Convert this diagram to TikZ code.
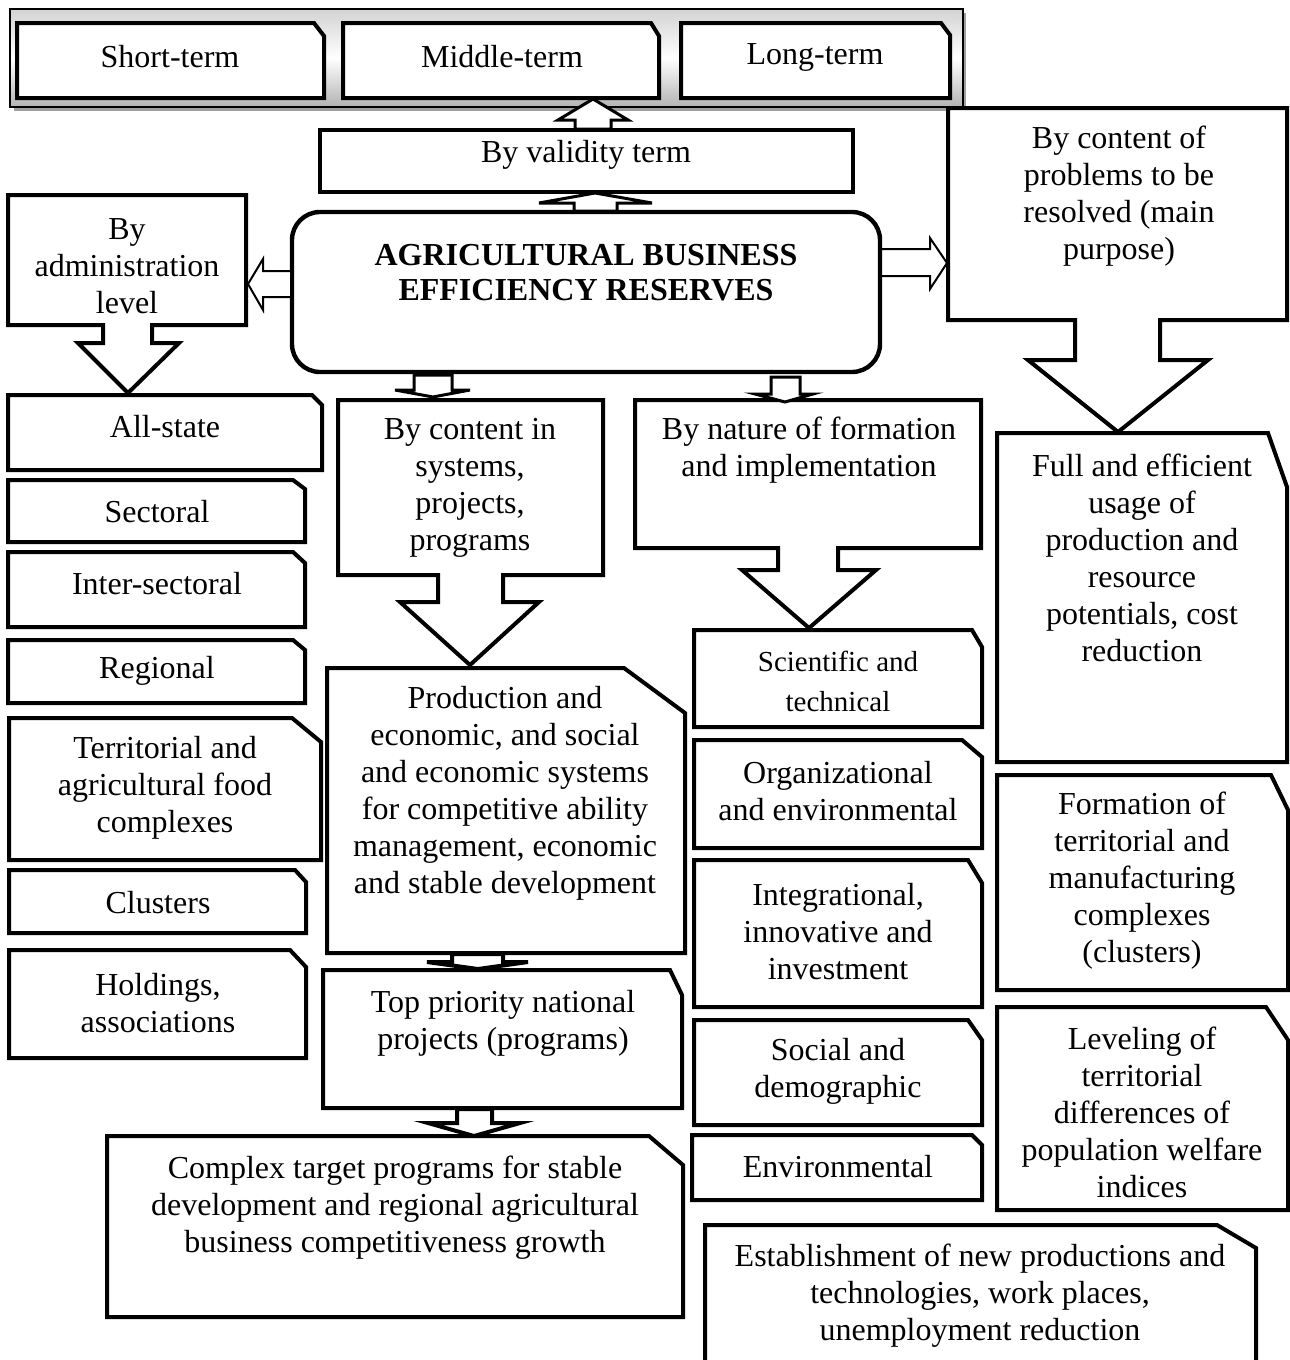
\documentclass[tikz,border=0pt]{standalone}
\usepackage{fontspec}
\setmainfont{Liberation Serif}
\newcommand\cbox[6]{\draw[boxline] (#1,#2) -- ({#3-#5},#2) -- (#3,{#2+#6}) -- (#3,#4) -- (#1,#4) -- cycle;}
\newcommand\darrow[9][arrline]{\draw[#1] (#2,#4) -- (#3,#4) -- (#3,#5) -- (#7,#5) -- (#8,#9) -- (#6,#5) -- (#2,#5) -- cycle;}
\newcommand\harrow[9][arrline]{\draw[#1] (#2,#4) -- (#3,#4) -- (#3,#6) -- (#8,#9) -- (#3,#7) -- (#3,#5) -- (#2,#5) -- cycle;}
\begin{document}
\begin{tikzpicture}[x=0.5pt,y=-0.5pt,
  boxline/.style={line width=2pt, line join=miter, fill=white},
  arrline/.style={line width=1.5pt, line join=miter, fill=white},
  thinarr/.style={line width=1pt, line join=miter, fill=white},
  txt/.style={font=\fontsize{16}{18.5}\selectfont, align=center, inner sep=0pt},
  smalltxt/.style={font=\fontsize{14.5}{20}\selectfont, align=center, inner sep=0pt},
]
\useasboundingbox (0,0) rectangle (1290,1360);

% container of terms
\fill[gray!75] (14,13) rectangle (966,111);
\shade[top color=gray!35, bottom color=gray!60, middle color=white, draw=black, line width=0.8pt] (10,9) rectangle (963,107);
\cbox{17}{23}{324}{98}{10}{13}
\cbox{343}{23}{659}{98}{8}{13}
\cbox{681}{23}{950}{98}{9}{12}

% validity box
\draw[boxline] (320,130) rectangle (853,192);

% main box
\draw[line width=2.2pt, fill=white, rounded corners=14pt] (292,212) rectangle (880,372);

% callouts
\draw[boxline] (8,195) -- (246,195) -- (246,325) -- (152,325) -- (152,343) -- (179,343) -- (128,393) -- (78,343) -- (103,343) -- (103,325) -- (8,325) -- cycle;
\draw[boxline] (948,108) -- (1287,108) -- (1287,320) -- (1160,320) -- (1160,360) -- (1208,360) -- (1118,432) -- (1028,360) -- (1075,360) -- (1075,320) -- (948,320) -- cycle;
\draw[boxline] (338,400) -- (603,400) -- (603,575) -- (503,575) -- (503,602) -- (539,602) -- (470,665) -- (400,602) -- (438,602) -- (438,575) -- (338,575) -- cycle;
\draw[boxline] (635,400) -- (981,400) -- (981,548) -- (838,548) -- (838,570) -- (876,570) -- (809,628) -- (742,570) -- (778,570) -- (778,548) -- (635,548) -- cycle;

% left column
\cbox{8}{395}{322}{470}{10}{10}
\cbox{8}{480}{305}{542}{12}{9}
\cbox{8}{552}{305}{627}{12}{11}
\cbox{8}{640}{305}{703}{12}{10}
\cbox{9}{718}{321}{860}{29}{24}
\cbox{9}{870}{306}{933}{11}{12}
\cbox{9}{950}{306}{1058}{16}{17}

% middle column
\cbox{327}{668}{685}{953}{61}{45}
\cbox{323}{970}{682}{1108}{12}{25}
\cbox{107}{1136}{683}{1317}{34}{29}

% right-middle column
\cbox{694}{630}{982}{727}{10}{17}
\cbox{694}{740}{982}{848}{20}{17}
\cbox{694}{860}{982}{1007}{14}{23}
\cbox{694}{1020}{982}{1125}{14}{20}
\cbox{692}{1135}{982}{1200}{10}{10}

% right column
\cbox{997}{433}{1287}{762}{19}{54}
\cbox{997}{775}{1288}{990}{17}{35}
\cbox{997}{1007}{1288}{1210}{22}{33}
\cbox{705}{1225}{1256}{1370}{39}{23}

% block arrows
\darrow{575}{611}{129}{120}{558}{628}{593}{99}
\darrow{574}{617}{211}{203}{539}{652}{595}{193}
\harrow[thinarr]{291}{263}{271}{297}{259}{310}{248}{284}
\harrow[thinarr]{881}{930}{249}{276}{238}{289}{947}{263}
\darrow{414}{452}{375}{390}{395}{470}{433}{397}
\darrow{771}{800}{377}{394}{755}{813}{785}{402}
\darrow[boxline]{452}{503}{954}{962}{427}{528}{478}{969}
\darrow[boxline]{457}{492}{1109}{1123}{428}{520}{474}{1136}

% texts
\node[txt] (tshort) at (170,57) {Short-term};
\node[txt] (tmiddle) at (502,57) {Middle-term};
\node[txt] (tlong) at (815,57) {Long-term};
\node[txt] (tvalid) at (586,155) {By validity term};
\node[txt, font=\fontsize{16}{17.5}\selectfont\bfseries] (tmain) at (586,273) {AGRICULTURAL BUSINESS\\EFFICIENCY RESERVES};
\node[txt] (tadmin) at (127,266) {By\\administration\\level};
\node[txt] (tprob) at (1119,196) {By content of\\problems to be\\resolved (main\\purpose)};
\node[txt] (tcont) at (470,488) {By content in\\systems,\\projects,\\programs};
\node[txt] (tnat) at (809,450) {By nature of formation\\and implementation};

\node[txt] (tall) at (165,427) {All-state};
\node[txt] (tsect) at (157,512) {Sectoral};
\node[txt] (tinter) at (157,584) {Inter-sectoral};
\node[txt] (treg) at (157,671) {Regional};
\node[txt] (tterr) at (165,788) {Territorial and\\agricultural food\\complexes};
\node[txt] (tclust) at (158,903) {Clusters};
\node[txt] (thold) at (158,1003) {Holdings,\\associations};

\node[txt] (tprod) at (505,793) {Production and\\economic, and social\\and economic systems\\for competitive ability\\management, economic\\and stable development};
\node[txt] (ttop) at (503,1023) {Top priority national\\projects (programs)};
\node[txt] (tcomplex) at (395,1208) {Complex target programs for stable\\development and regional agricultural\\business competitiveness growth};

\node[smalltxt] (tsci) at (838,681) {Scientific and\\technical};
\node[txt] (torg) at (838,791) {Organizational\\and environmental};
\node[txt] (tint) at (838,932) {Integrational,\\innovative and\\investment};
\node[txt] (tsoc) at (838,1071) {Social and\\demographic};
\node[txt] (tenv) at (838,1167) {Environmental};

\node[txt] (tfull) at (1142,558) {Full and efficient\\usage of\\production and\\resource\\potentials, cost\\reduction};
\node[txt] (tform) at (1142,881) {Formation of\\territorial and\\manufacturing\\complexes\\(clusters)};
\node[txt] (tlev) at (1142,1112) {Leveling of\\territorial\\differences of\\population welfare\\indices};
\node[txt] (test) at (980,1296) {Establishment of new productions and\\technologies, work places,\\unemployment reduction};
\end{tikzpicture}
\end{document}
